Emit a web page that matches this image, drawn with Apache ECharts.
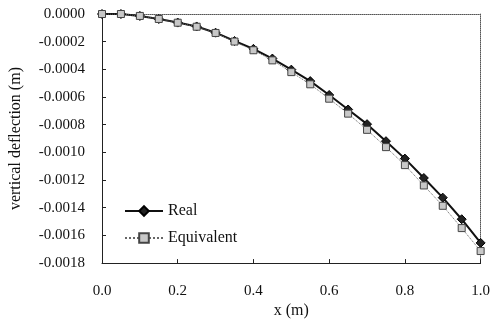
<!DOCTYPE html>
<html><head><meta charset="utf-8">
<script src="https://cdn.jsdelivr.net/npm/echarts@6/dist/echarts.min.js"></script>
<style>html,body{margin:0;padding:0;background:#fff}#c{width:493px;height:324px}</style>
</head><body><div id="c"></div>
<script>
var xValues = [0, 0.05, 0.1, 0.15, 0.2, 0.25, 0.3, 0.35, 0.4, 0.45, 0.5, 0.55, 0.6, 0.65, 0.7, 0.75, 0.8, 0.85, 0.9, 0.95, 1.0];
var realValues = [0, 0, -0.000014, -0.000036, -0.000062, -0.00009, -0.000135, -0.000195, -0.000252, -0.000322, -0.000402, -0.000485, -0.000585, -0.00069, -0.000796, -0.000919, -0.001045, -0.001185, -0.001327, -0.001483, -0.001654];
var equivValues = [0, 0, -0.000014, -0.000036, -0.000063, -0.000092, -0.000137, -0.000199, -0.000262, -0.000335, -0.00042, -0.000508, -0.000612, -0.00072, -0.000837, -0.000962, -0.001092, -0.001239, -0.001386, -0.001547, -0.001713];
var seriesNames = ['Real', 'Equivalent'];

function pairs(ys){ return xValues.map(function(x,i){ return [x, ys[i]]; }); }
var font = 'Liberation Serif';
var chart = echarts.init(document.getElementById('c'));
chart.setOption({
  animation: false,
  backgroundColor: '#fff',
  textStyle: {fontFamily: font},
  grid: {left: 99, right: 9, top: 14, bottom: 57},
  legend: {
    data: seriesNames, orient: 'vertical', left: 119, top: 198, itemGap: 11,
    itemWidth: 38, itemHeight: 12, itemGap: 11,
    textStyle: {fontFamily: font, fontSize: 16, color: '#111'}
  },
  xAxis: [{
    type: 'value', min: 0, max: 1, interval: 0.2,
    name: 'x (m)', nameLocation: 'middle', nameGap: 33,
    nameTextStyle: {fontFamily: font, fontSize: 16, color: '#111'},
    axisLine: {onZero: false, lineStyle: {color: '#222', width: 1}},
    axisTick: {inside: true, length: 4, lineStyle: {color: '#222'}},
    axisLabel: {margin: 20, fontFamily: font, fontSize: 15, color: '#111', formatter: function(v){ return v.toFixed(1); }},
    splitLine: {show: false}
  }, {
    type: 'value', position: 'top', min: 0, max: 1,
    axisLine: {show: true, onZero: false, lineStyle: {color: '#555', type: 'dotted', width: 1}},
    axisTick: {show: false}, axisLabel: {show: false}, splitLine: {show: false}
  }],
  yAxis: [{
    type: 'value', min: -0.0018, max: 0, interval: 0.0002,
    name: 'vertical deflection (m)', nameLocation: 'middle', nameGap: 78,
    nameTextStyle: {fontFamily: font, fontSize: 16, color: '#111'},
    axisLine: {show: true, onZero: false, lineStyle: {color: '#222', width: 1}},
    axisTick: {show: true, inside: true, length: 4, lineStyle: {color: '#222'}},
    axisLabel: {margin: 17, fontFamily: font, fontSize: 15, color: '#111', formatter: function(v){ return v.toFixed(4); }},
    splitLine: {show: false}
  }, {
    type: 'value', position: 'right', min: -0.0018, max: 0,
    axisLine: {show: true, onZero: false, lineStyle: {color: '#555', type: 'dotted', width: 1}},
    axisTick: {show: false}, axisLabel: {show: false}, splitLine: {show: false}
  }],
  series: [{
    name: seriesNames[0], type: 'line', data: pairs(realValues),
    symbol: 'diamond', symbolSize: 9,
    lineStyle: {color: '#111', width: 2},
    itemStyle: {color: '#222', borderColor: '#000', borderWidth: 1},
    z: 2
  }, {
    name: seriesNames[1], type: 'line', data: pairs(equivValues),
    symbol: 'rect', symbolSize: 7,
    lineStyle: {color: '#666', width: 1, type: 'dotted'},
    itemStyle: {color: '#c8c8c8', borderColor: '#444', borderWidth: 1},
    z: 3
  }]
});
</script></body></html>
